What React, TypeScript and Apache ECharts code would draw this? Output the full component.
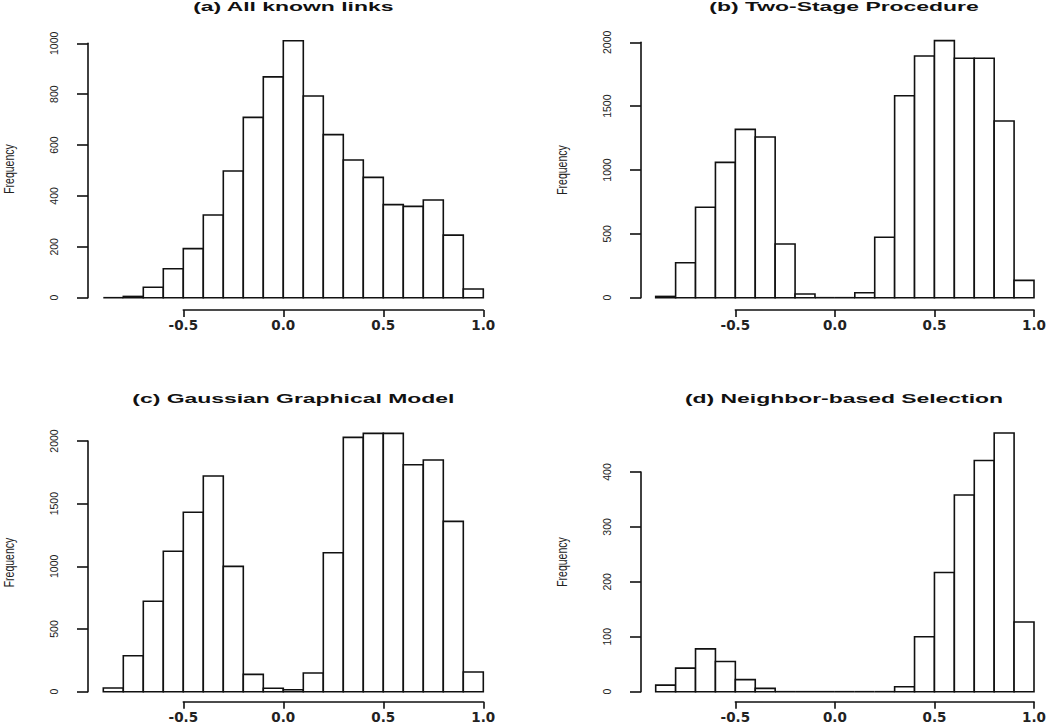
import React, { useEffect, useRef } from "react";
import * as echarts from "echarts";

// ---- data ----
const binEdges = [-0.9, -0.8, -0.7, -0.6, -0.5, -0.4, -0.3, -0.2, -0.1, 0.0, 0.1, 0.2, 0.3, 0.4, 0.5, 0.6, 0.7, 0.8, 0.9, 1.0];
const countsA = [0, 5, 41, 114, 193, 325, 498, 709, 868, 1010, 793, 641, 541, 473, 366, 359, 384, 246, 34];
const countsB = [10, 274, 708, 1060, 1318, 1258, 420, 29, 0, 0, 39, 473, 1582, 1893, 2013, 1875, 1875, 1384, 136];
const countsC = [29, 287, 721, 1120, 1431, 1721, 1000, 138, 27, 16, 149, 1109, 2029, 2061, 2061, 1811, 1848, 1359, 157];
const countsD = [12, 43, 78, 55, 22, 6, 0, 0, 0, 0, 0, 0, 9, 100, 217, 358, 421, 471, 127];
const titles = ["(a) All known links", "(b) Two-Stage Procedure", "(c) Gaussian Graphical Model", "(d) Neighbor-based Selection"];
const yAxisMax = [1000, 2000, 2000, 400];
const yAxisStep = [200, 500, 500, 100];
const xTickMin = -0.5;
const xTickMax = 1.0;
const xTickStep = 0.5;
const yLabel = "Frequency";

// ---- layout (pixels) ----
const layouts = [
  { dataLeft: 103.3, dataWidth: 380, zeroY: 297.7, topY: 43.3, axisX: 88, xAxisY: 310, titleX: 293.3, titleY: 6.5, freqX: 9, freqY: 169 },
  { dataLeft: 655.7, dataWidth: 378.3, zeroY: 297.7, topY: 42.3, axisX: 641, xAxisY: 310, titleX: 844, titleY: 6.5, freqX: 561.5, freqY: 170 },
  { dataLeft: 103.3, dataWidth: 380, zeroY: 691.7, topY: 441, axisX: 88, xAxisY: 701.7, titleX: 293.3, titleY: 398.7, freqX: 8.5, freqY: 562.5 },
  { dataLeft: 655.7, dataWidth: 378.3, zeroY: 691.7, topY: 472, axisX: 641, xAxisY: 701.7, titleX: 844, titleY: 398.7, freqX: 561.5, freqY: 562 },
];

const INK = "#111";
const LW = 1.6;

function buildOption() {
  const allCounts = [countsA, countsB, countsC, countsD];
  const binMin = binEdges[0];
  const binMax = binEdges[binEdges.length - 1];
  const grids: any[] = [];
  const xAxes: any[] = [];
  const yAxes: any[] = [];
  const series: any[] = [];
  const graphics: any[] = [];

  allCounts.forEach((counts, i) => {
    const L = layouts[i];
    const dataGrid = grids.length;
    grids.push({
      left: L.dataLeft,
      top: L.topY,
      width: L.dataWidth,
      height: L.zeroY - L.topY,
      containLabel: false,
      outerBoundsMode: "none",
    });
    const axGrid = grids.length;
    const axLeft = L.dataLeft + ((xTickMin - binMin) / (binMax - binMin)) * L.dataWidth;
    const axWidth = ((xTickMax - xTickMin) / (binMax - binMin)) * L.dataWidth;
    grids.push({
      left: axLeft,
      top: L.xAxisY - 1,
      width: axWidth,
      height: 1,
      containLabel: false,
      outerBoundsMode: "none",
    });

    const dataX = xAxes.length;
    xAxes.push({ type: "value", gridIndex: dataGrid, min: binMin, max: binMax, show: false });
    const dataY = yAxes.length;
    yAxes.push({
      type: "value",
      gridIndex: dataGrid,
      min: 0,
      max: yAxisMax[i],
      interval: yAxisStep[i],
      position: "left",
      offset: L.dataLeft - L.axisX,
      axisLine: { show: true, onZero: false, lineStyle: { color: INK, width: LW } },
      axisTick: { show: true, length: 11, lineStyle: { color: INK, width: LW } },
      axisLabel: {
        show: true,
        rotate: 90,
        margin: 29,
        color: "#222",
        fontFamily: "Liberation Sans",
        fontSize: 10.5,
        formatter: (v: number) => String(v),
      },
      splitLine: { show: false },
    });
    xAxes.push({
      type: "value",
      gridIndex: axGrid,
      min: xTickMin,
      max: xTickMax,
      interval: xTickStep,
      position: "bottom",
      axisLine: { show: true, onZero: false, lineStyle: { color: INK, width: LW } },
      axisTick: { show: true, length: 7, lineStyle: { color: INK, width: LW } },
      axisLabel: {
        show: true,
        margin: 8,
        color: "#222",
        fontFamily: "DejaVu Sans",
        fontWeight: "bold",
        fontSize: 13.5,
        formatter: (v: number) => v.toFixed(1),
      },
      splitLine: { show: false },
    });
    yAxes.push({ type: "value", gridIndex: axGrid, min: 0, max: 1, show: false });

    const data = counts.map((c, k) => [binEdges[k], binEdges[k + 1], c]);
    series.push({
      type: "custom",
      xAxisIndex: dataX,
      yAxisIndex: dataY,
      clip: false,
      encode: { x: [0, 1], y: 2 },
      data,
      renderItem: (params: any, api: any) => {
        const x0 = api.value(0);
        const x1 = api.value(1);
        const v = api.value(2);
        const p0 = api.coord([x0, 0]);
        const p1 = api.coord([x1, v]);
        if (v === 0) {
          return {
            type: "line",
            shape: { x1: p0[0], y1: p0[1], x2: p1[0], y2: p0[1] },
            style: { stroke: INK, lineWidth: LW },
          };
        }
        return {
          type: "rect",
          shape: { x: p0[0], y: p1[1], width: p1[0] - p0[0], height: p0[1] - p1[1] },
          style: { fill: "#fff", stroke: INK, lineWidth: LW },
        };
      },
    });

    graphics.push({
      type: "text",
      x: L.titleX,
      y: L.titleY,
      scaleX: 1.91,
      style: {
        text: titles[i],
        fontFamily: "Liberation Sans",
        fontWeight: "bold",
        fontSize: 12,
        fill: INK,
        textAlign: "center",
        align: "center",
        textVerticalAlign: "middle",
        verticalAlign: "middle",
      },
    });
    graphics.push({
      type: "text",
      x: L.freqX,
      y: L.freqY,
      rotation: Math.PI / 2,
      scaleY: 1.4,
      style: {
        text: yLabel,
        fontFamily: "Liberation Sans",
        fontSize: 10.5,
        fill: "#222",
        textAlign: "center",
        align: "center",
        textVerticalAlign: "middle",
        verticalAlign: "middle",
      },
    });
  });

  return {
    animation: false,
    backgroundColor: "#fff",
    grid: grids,
    xAxis: xAxes,
    yAxis: yAxes,
    series,
    graphic: graphics,
  };
}

export default function App() {
  const ref = useRef<HTMLDivElement>(null);
  useEffect(() => {
    if (!ref.current) return;
    const chart = echarts.init(ref.current, null, { renderer: "svg" });
    chart.setOption(buildOption() as any);
    return () => chart.dispose();
  }, []);
  return (
    <div
      ref={ref}
      style={{ position: "fixed", left: 0, top: 0, width: 1050, height: 724, background: "#fff" }}
    />
  );
}
